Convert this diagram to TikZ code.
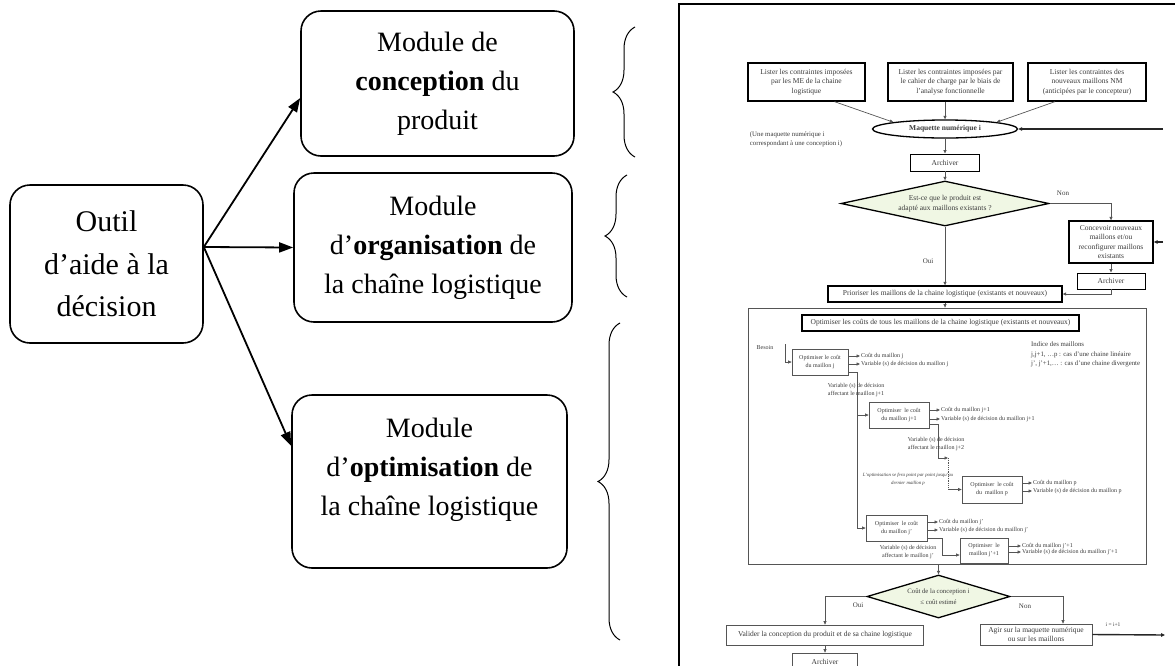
\documentclass[tikz,border=0pt]{standalone}
\usepackage{fontspec}
\setmainfont{Liberation Serif}
\usepackage{xcolor}
\usepackage{tikz}
\usetikzlibrary{positioning,arrows.meta,shapes.geometric,decorations.pathreplacing}
\definecolor{vertclair}{HTML}{F0F7E4}
\definecolor{trait}{HTML}{555555}
\definecolor{texte}{HTML}{3A3A3A}

\begin{document}
\begin{tikzpicture}[
  x=1pt, y=-1pt,
  module/.style={draw, line width=1.6pt, rounded corners=20pt, align=center, inner sep=0pt, font=\fontsize{28}{39}\selectfont},
  grande/.style={-{Triangle[length=14pt,width=10pt]}, line width=1.8pt},
  accolade/.style={decorate, decoration={brace, amplitude=22pt}, line width=1pt},
  cadrefin/.style={draw=trait, line width=0.7pt, align=center, inner sep=0pt, text=texte, font=\fontsize{7.5}{9.3}\selectfont},
  cadrefort/.style={cadrefin, draw=black, line width=1.3pt},
  boiteopt/.style={cadrefin, font=\fontsize{6}{8}\selectfont},
  losange/.style={diamond, draw=black, line width=1.3pt, fill=vertclair, inner sep=0pt, align=center, text=texte},
  fleche/.style={-{Triangle[length=3.5pt,width=3pt]}, draw=trait, line width=0.7pt},
  retour/.style={-{Triangle[length=4pt,width=3.5pt]}, line width=1.4pt, black!85},
  etiq/.style={text=texte, font=\fontsize{6}{8}\selectfont, align=center, inner sep=0pt},
  sortie/.style={etiq, anchor=west, align=left, inner sep=1pt}
]
  \useasboundingbox (0,0) rectangle (1175,665);
  \clip (0,0) rectangle (1175,665);

  % outil et modules
  \node[module, minimum width=193pt, minimum height=158pt, font=\fontsize{30}{42.5}\selectfont] (outil) at (106.5,264) {Outil\\d’aide à la\\décision};
  \node[module, minimum width=273pt, minimum height=145pt] (m1) at (437.5,83.5) {Module de\\\textbf{conception} du\\produit};
  \node[module, minimum width=278pt, minimum height=149pt] (m2) at (433,247.5) {Module\\d’\textbf{organisation} de\\la chaîne logistique};
  \node[module, minimum width=275pt, minimum height=173pt] (m3) at (429.5,481.5) {};
  \node[align=center, font=\fontsize{28}{39}\selectfont] (m3t) at (429.5,470) {Module\\d’\textbf{optimisation} de\\la chaîne logistique};
  \draw[grande] ([yshift=17pt]outil.east) -- ([yshift=-14.5pt]m1.west);
  \draw[grande] ([yshift=17pt]outil.east) -- (m2.west);
  \draw[grande] ([yshift=17pt]outil.east) -- ([yshift=35.5pt]m3.west);

  % accolades
  \draw[accolade] (635,157) -- (635,27);
  \draw[accolade] (627,297) -- (627,175);
  \draw[accolade] (620,640) -- (620,323);

  % cadre de la figure
  \draw[line width=1.8pt] (679,670) -- (679,4) -- (1180,4);

  % conception
  \node[cadrefort, minimum width=117pt, minimum height=38pt] (l1) at (806.5,82) {Lister les contraintes imposées\\par les ME de la chaine\\logistique};
  \node[cadrefort, minimum width=125pt, minimum height=38pt] (l2) at (950.5,82) {Lister les contraintes imposées par\\le cahier de charge par le biais de\\l’analyse fonctionnelle};
  \node[cadrefort, minimum width=118pt, minimum height=38pt] (l3) at (1087,82) {Lister les contraintes des\\nouveaux maillons NM\\(anticipées par le concepteur)};
  \node[ellipse, draw, line width=1.3pt, minimum width=145pt, minimum height=18pt, inner sep=0pt, text=texte, font=\bfseries\fontsize{7.5}{9}\selectfont] (mq) at (945,129) {Maquette numérique i};
  \node[etiq, align=left, font=\fontsize{6.8}{9}\selectfont] (note) at (796,139.5) {(Une maquette numérique i\\correspondant à une conception i)};
  \draw[fleche] ([xshift=28pt]l1.south) -- (mq.north west);
  \draw[fleche] (l2.south -| mq.north) -- (mq.north);
  \draw[fleche] ([xshift=-32pt]l3.south) -- (mq.north east);
  \node[cadrefin, draw=black, line width=0.9pt, minimum width=69pt, minimum height=17pt] (ar1) at (945,162.5) {Archiver};
  \draw[fleche] (mq) -- (ar1);
  \node[losange, minimum width=208pt, minimum height=45pt, aspect=4.6, font=\fontsize{7.5}{10}\selectfont] (q1) at (945,203.5) {Est-ce que le produit est\\adapté aux maillons existants ?};
  \draw[fleche] (ar1) -- (q1);
  \node[cadrefort, minimum width=84pt, minimum height=42pt] (co) at (1111,242) {Concevoir nouveaux\\maillons et/ou\\reconfigurer maillons\\existants};
  \draw[fleche] (q1.east) -| (co.north);
  \node[etiq, font=\fontsize{7}{8}\selectfont] (non1) at (1063,193) {Non};
  \node[cadrefin, draw=black, line width=0.9pt, minimum width=68pt, minimum height=16pt] (ar2) at (1111,281) {Archiver};
  \draw[fleche] (co) -- (ar2);
  \node[cadrefort, minimum width=234pt, minimum height=16pt] (pr) at (945,294) {Prioriser les maillons de la chaine logistique (existants et nouveaux)};
  \draw[fleche] (ar2.south) |- (pr.east);
  \draw[fleche] (q1.south) -- (pr.north);
  \node[etiq, font=\fontsize{7}{8}\selectfont] (oui1) at (928,261) {Oui};

  % optimisation
  \node[draw=trait, line width=0.7pt, minimum width=398pt, minimum height=256pt, inner sep=0pt] (cadre) at (947,436) {};
  \draw[fleche] (pr.south) -- (pr.south |- cadre.north);
  \node[cadrefort, minimum width=277pt, minimum height=16pt] (oc) at (940.5,323) {Optimiser les coûts de tous les maillons de la chaine logistique (existants et nouveaux)};
  \node[etiq, align=left, anchor=west, font=\fontsize{6.8}{9.5}\selectfont] (indice) at (1031,354.5) {Indice des maillons\\j,j+1, …p : cas d’une chaine linéaire\\j’, j’+1,… : cas d’une chaine divergente};
  \node[etiq] (besoin) at (765,348) {Besoin};
  \coordinate (b0) at (785,344);
  \node[boiteopt, minimum width=56pt, minimum height=26pt] (bj) at (820,362) {Optimiser le coût\\du maillon j};
  \node[boiteopt, minimum width=60pt, minimum height=26pt] (bj1) at (899,415) {Optimiser\ \ le coût\\du maillon j+1};
  \node[boiteopt, minimum width=60pt, minimum height=27pt] (bp) at (992,489.5) {Optimiser\ \ le coût\\du\ \ maillon p};
  \node[boiteopt, minimum width=61pt, minimum height=26pt] (bjp) at (896.5,528) {Optimiser\ \ le coût\\du maillon j’};
  \node[boiteopt, minimum width=48pt, minimum height=25pt] (bq) at (984,550.5) {Optimiser\ \ le\\maillon j’+1};
  \draw[fleche] (b0) |- (bj.west);

  \node[sortie] (cj) at (860,356) {Coût du maillon j};
  \node[sortie] (vj) at (860,364) {Variable (s) de décision du maillon j};
  \node[sortie] (cj1) at (940,410) {Coût du maillon j+1};
  \node[sortie] (vj1) at (940,419) {Variable (s) de décision du maillon j+1};
  \node[sortie] (cp) at (1032,483) {Coût du maillon p};
  \node[sortie] (vp) at (1032,491) {Variable (s) de décision du maillon p};
  \node[sortie] (cjp) at (938,522) {Coût du maillon j’};
  \node[sortie] (vjp) at (938,530) {Variable (s) de décision du maillon j’};
  \node[sortie] (cq) at (1021,546) {Coût du maillon j’+1};
  \node[sortie] (vq) at (1021,552) {Variable (s) de décision du maillon j’+1};
  \draw[fleche] (bj.east |- cj.west) -- (cj.west);
  \draw[fleche] (bj.east |- vj.west) -- (vj.west);
  \draw[fleche] (bj1.east |- cj1.west) -- (cj1.west);
  \draw[fleche] (bj1.east |- vj1.west) -- (vj1.west);
  \draw[fleche] (bp.east |- cp.west) -- (cp.west);
  \draw[fleche] (bp.east |- vp.west) -- (vp.west);
  \draw[fleche] (bjp.east |- cjp.west) -- (cjp.west);
  \draw[fleche] (bjp.east |- vjp.west) -- (vjp.west);
  \draw[fleche] (bq.east |- cq.west) -- (cq.west);
  \draw[fleche] (bq.east |- vq.west) -- (vq.west);

  \draw[fleche] ([yshift=-10pt]bj.east) -- ++(9,0) |- (bj1.west);
  \draw[fleche] ([yshift=-10pt]bj.east) -- ++(9,0) |- (bjp.west);
  \node[etiq] (aj1) at (856,390) {Variable (s) de décision\\affectant le maillon j+1};
  \coordinate (d1) at (948,458);
  \draw[fleche] ([yshift=-9pt]bj1.east) -- ++(9,0) |- (d1);
  \node[etiq] (aj2) at (936,444) {Variable (s) de décision\\affectant le maillon j+2};
  \draw[trait, densely dotted, line width=0.8pt] (d1) -- (d1 |- bp.west);
  \draw[fleche] (d1 |- bp.west) -- (bp.west);
  \node[etiq, font=\itshape\fontsize{4.8}{7.7}\selectfont] (pap) at (908,479) {L’optimisation se fera point par point jusqu’au\\dernier maillon p};
  \draw[fleche] ([yshift=-10pt]bjp.east) -- ++(15,0) |- ([yshift=-4.5pt]bq.west);
  \node[etiq] (ajp) at (908,552.5) {Variable (s) de décision\\affectant le maillon j’};

  % decision finale
  \node[losange, minimum width=143pt, minimum height=43pt, aspect=3.3, font=\fontsize{6.7}{11}\selectfont] (q2) at (938.5,596.5) {Coût de la conception i\\≤ coût estimé};
  \draw[fleche] (q2.north |- cadre.south) -- (q2.north);
  \node[cadrefin, minimum width=197pt, minimum height=20pt] (va) at (825,635) {Valider la conception du produit et de sa chaine logistique};
  \draw[fleche] (q2.west) -| (va.north);
  \node[etiq, font=\fontsize{7}{8}\selectfont] (oui2) at (858,605) {Oui};
  \node[cadrefin, minimum width=65pt, minimum height=18pt] (ar3) at (825,662) {Archiver};
  \draw[fleche] (va) -- (ar3);
  \node[cadrefin, minimum width=112pt, minimum height=21pt] (ag) at (1036,634.5) {Agir sur la maquette numérique\\ou sur les maillons};
  \draw[fleche] (q2.east) -| ([xshift=27pt]ag.north);
  \node[etiq, font=\fontsize{7}{8}\selectfont] (non2) at (1025,606) {Non};
  \node[etiq, font=\fontsize{5.5}{7}\selectfont] (incr) at (1113,625) {i = i+1};

  % retours
  \coordinate (ret1) at (1163,129);
  \coordinate (ret2) at (1163,242);
  \coordinate (ret3) at (1165,635);
  \draw[retour] (ret1) -- (mq.east);
  \draw[retour] (ret2) -- (co.east);
  \draw[retour] (ag.east) -- (ret3);
\end{tikzpicture}
\end{document}
